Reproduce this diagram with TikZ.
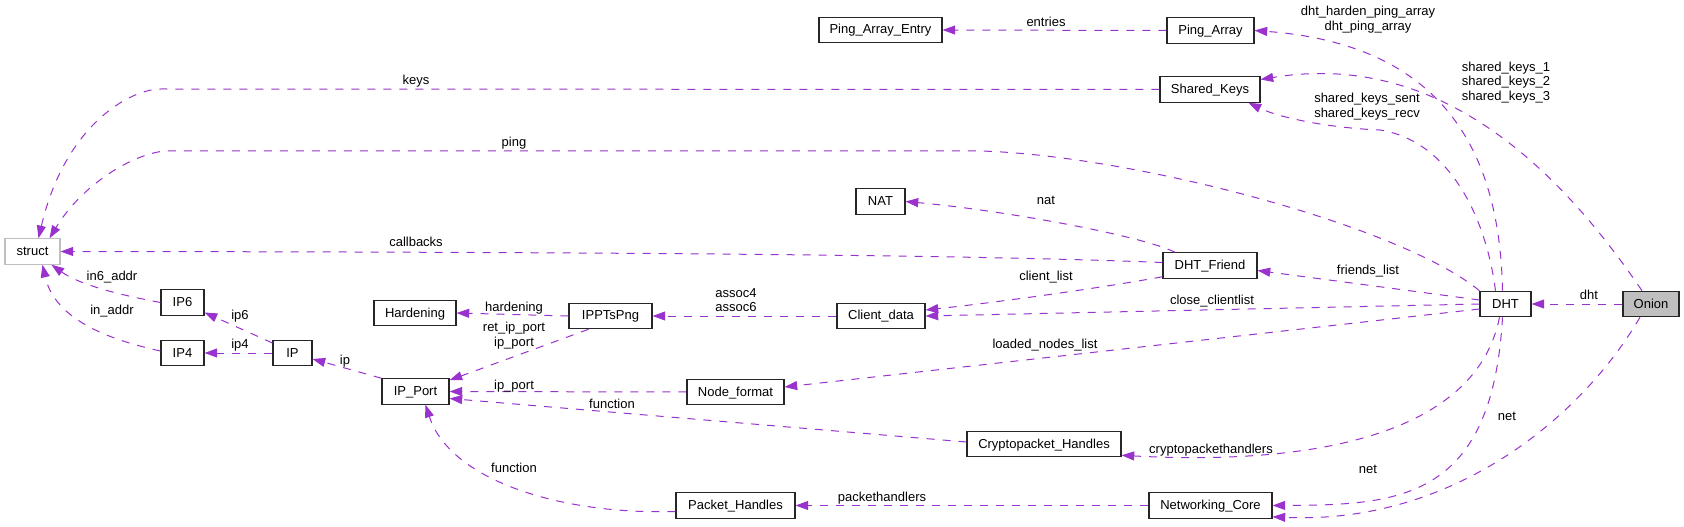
\documentclass[tikz,border=0pt]{standalone}
\usepackage{fontspec}
\setmainfont{Liberation Sans}
\usetikzlibrary{arrows.meta,calc}
\definecolor{edgec}{HTML}{9A32CD}
\definecolor{greyb}{HTML}{BFBFBF}
\begin{document}
\begin{tikzpicture}[x=0.75pt,y=-0.75pt,
  font=\fontsize{9.75pt}{10.9pt}\selectfont,
  box/.style={draw=black!85, line width=0.8pt, minimum height=19.1pt, inner sep=0pt, text height=7.5pt, text depth=1.5pt},
  lbl/.style={inner sep=0pt, text height=7.5pt, text depth=1.5pt},
  mlbl/.style={inner sep=0pt, align=center},
  edge/.style={draw=edgec, line width=0.75pt, dash pattern=on 6pt off 6pt, -{Triangle[length=9.5pt,width=6.75pt]}}]
\useasboundingbox (0,0) rectangle (1684,527);
\fill[white] (0,0) rectangle (1684,527);
% nodes
\node[box, draw=greyb, minimum width=41.25pt] (struct) at (32.5,251.5) {struct};
\node[box, minimum width=32.25pt] (IP6) at (182.5,302.5) {IP6};
\node[box, minimum width=32.25pt] (IP4) at (182.5,353) {IP4};
\node[box, minimum width=29.25pt] (IP) at (292.5,353) {IP};
\node[box, minimum width=50.25pt] (IPPort) at (415.5,391.5) {IP\_Port};
\node[box, minimum width=61.5pt] (Hardening) at (415,313) {Hardening};
\node[box, minimum width=62.25pt] (IPPTsPng) at (610.5,316) {IPPTsPng};
\node[box, minimum width=66pt] (Clientdata) at (881,316) {Client\_data};
\node[box, minimum width=72.75pt] (Nodeformat) at (735.5,392) {Node\_format};
\node[box, minimum width=89.25pt] (PacketHandles) at (735.5,505.5) {Packet\_Handles};
\node[box, minimum width=36.75pt] (NAT) at (880.5,201.5) {NAT};
\node[box, minimum width=92.25pt] (PingArrayEntry) at (880.5,30) {Ping\_Array\_Entry};
\node[box, minimum width=65.25pt] (PingArray) at (1210.5,30.5) {Ping\_Array};
\node[box, minimum width=75pt] (SharedKeys) at (1210,89.5) {Shared\_Keys};
\node[box, minimum width=70.5pt] (DHTFriend) at (1210,265.5) {DHT\_Friend};
\node[box, minimum width=115.5pt] (Crypto) at (1044,444) {Cryptopacket\_Handles};
\node[box, minimum width=92.25pt] (NetCore) at (1210.5,505.5) {Networking\_Core};
\node[box, minimum width=38.25pt] (DHT) at (1505.5,304) {DHT};
\node[box, fill=greyb, minimum width=42pt] (Onion) at (1651,304) {Onion};
% edges
\draw[edge] (PingArray.west) -- (PingArrayEntry.east);
\draw[edge] ($(DHT.north)+(-3,0)$) .. controls (1500,160) and (1450,45) .. (PingArray.east);
\draw[edge] ($(Onion.north)+(-9,0)$) .. controls (1560,170) and (1440,50) .. ($(SharedKeys.east)+(0,-10)$);
\draw[edge] ($(DHT.north)+(-10,0)$) .. controls (1485,210) and (1445,140) .. (1380,130) .. controls (1330,128) and (1280,118) .. ($(SharedKeys.south east)+(-12,0)$);
\draw[edge] (DHT.north west) .. controls (1400,225) and (1130,155) .. (980,151) -- (168,151) .. controls (140,151) and (85,180) .. ($(struct.north)+(17,0)$);
\draw[edge] (SharedKeys.west) -- (161,89) .. controls (130,89) and (65,125) .. ($(struct.north)+(6,0)$);
\draw[edge] ($(DHTFriend.north)+(-35,0)$) .. controls (1140,235) and (1000,210) .. (NAT.east);
\draw[edge] ($(DHTFriend.west)+(0,-3)$) .. controls (1000,256) and (700,252) .. (struct.east);
\draw[edge] ($(DHTFriend.south west)+(0,-2)$) .. controls (1100,288) and (1000,302) .. ($(Clientdata.east)+(0,-6)$);
\draw[edge] (DHT.west) -- (Clientdata.east);
\draw[edge] ($(DHT.west)+(0,-4)$) -- ($(DHTFriend.east)+(0,5)$);
\draw[edge] ($(DHT.west)+(0,5)$) -- ($(Nodeformat.east)+(0,-5)$);
\draw[edge] ($(DHT.south)+(-6,0)$) .. controls (1475,440) and (1300,465) .. ($(Crypto.south east)+(0,-2)$);
\draw[edge] ($(DHT.south)+(-3,0)$) .. controls (1492,500) and (1400,505) .. (NetCore.east);
\draw[edge] ($(Onion.south)+(-11,0)$) .. controls (1580,420) and (1450,525) .. ($(NetCore.south east)+(0,-2)$);
\draw[edge] (NetCore.west) -- (PacketHandles.east);
\draw[edge] (Clientdata.west) -- (IPPTsPng.east);
\draw[edge] (IPPTsPng.west) -- (Hardening.east);
\draw[edge] ($(IPPTsPng.south)+(-22,0)$) -- ($(IPPort.north east)+(0,2)$);
\draw[edge] (Nodeformat.west) -- (IPPort.east);
\draw[edge] ($(Crypto.west)+(0,-2)$) -- ($(IPPort.east)+(0,7)$);
\draw[edge] ($(PacketHandles.west)+(0,6)$) .. controls (560,515) and (450,480) .. ($(IPPort.south)+(10,0)$);
\draw[edge] (IPPort.north west) -- ($(IP.east)+(0,6)$);
\draw[edge] ($(IP.west)+(0,-10)$) -- ($(IP6.east)+(0,10)$);
\draw[edge] (IP.west) -- (IP4.east);
\draw[edge] (IP6.west) .. controls (120,295) and (80,285) .. ($(struct.south)+(19,0)$);
\draw[edge] ($(IP4.west)+(0,-2)$) .. controls (110,340) and (55,320) .. ($(struct.south)+(10,0)$);
\draw[edge] (Onion.west) -- (DHT.east);
% labels
\node[lbl] (l-entries) at (1046,23) {entries};
\node[mlbl] (l-dhtping) at (1368,19.5) {dht\_harden\_ping\_array\\dht\_ping\_array};
\node[mlbl] (l-sk123) at (1506,82.5) {shared\_keys\_1\\shared\_keys\_2\\shared\_keys\_3};
\node[mlbl] (l-sksr) at (1367,106.5) {shared\_keys\_sent\\shared\_keys\_recv};
\node[lbl] (l-keys) at (416,81) {keys};
\node[lbl] (l-ping) at (514,143) {ping};
\node[lbl] (l-nat) at (1046,201) {nat};
\node[lbl] (l-callbacks) at (416,243) {callbacks};
\node[lbl] (l-clientlist) at (1046,277) {client\_list};
\node[lbl] (l-close) at (1212,301) {close\_clientlist};
\node[lbl] (l-friends) at (1368,271) {friends\_list};
\node[lbl] (l-loaded) at (1045,344) {loaded\_nodes\_list};
\node[lbl] (l-cph) at (1211,449) {cryptopackethandlers};
\node[lbl] (l-net1) at (1368,469) {net};
\node[lbl] (l-net2) at (1507,416) {net};
\node[lbl] (l-ph) at (882,497) {packethandlers};
\node[mlbl] (l-assoc) at (736,300) {assoc4\\assoc6};
\node[lbl] (l-hard) at (514,307) {hardening};
\node[mlbl] (l-retip) at (514,335.5) {ret\_ip\_port\\ip\_port};
\node[lbl] (l-ipport) at (514,385) {ip\_port};
\node[lbl] (l-func1) at (612,404) {function};
\node[lbl] (l-func2) at (514,468) {function};
\node[lbl] (l-ip) at (345,360) {ip};
\node[lbl] (l-ip6) at (240,316) {ip6};
\node[lbl] (l-ip4) at (240,344) {ip4};
\node[lbl] (l-in6) at (112,277) {in6\_addr};
\node[lbl] (l-in4) at (112,311) {in\_addr};
\node[lbl] (l-dht) at (1589,295) {dht};
\end{tikzpicture}
\end{document}
